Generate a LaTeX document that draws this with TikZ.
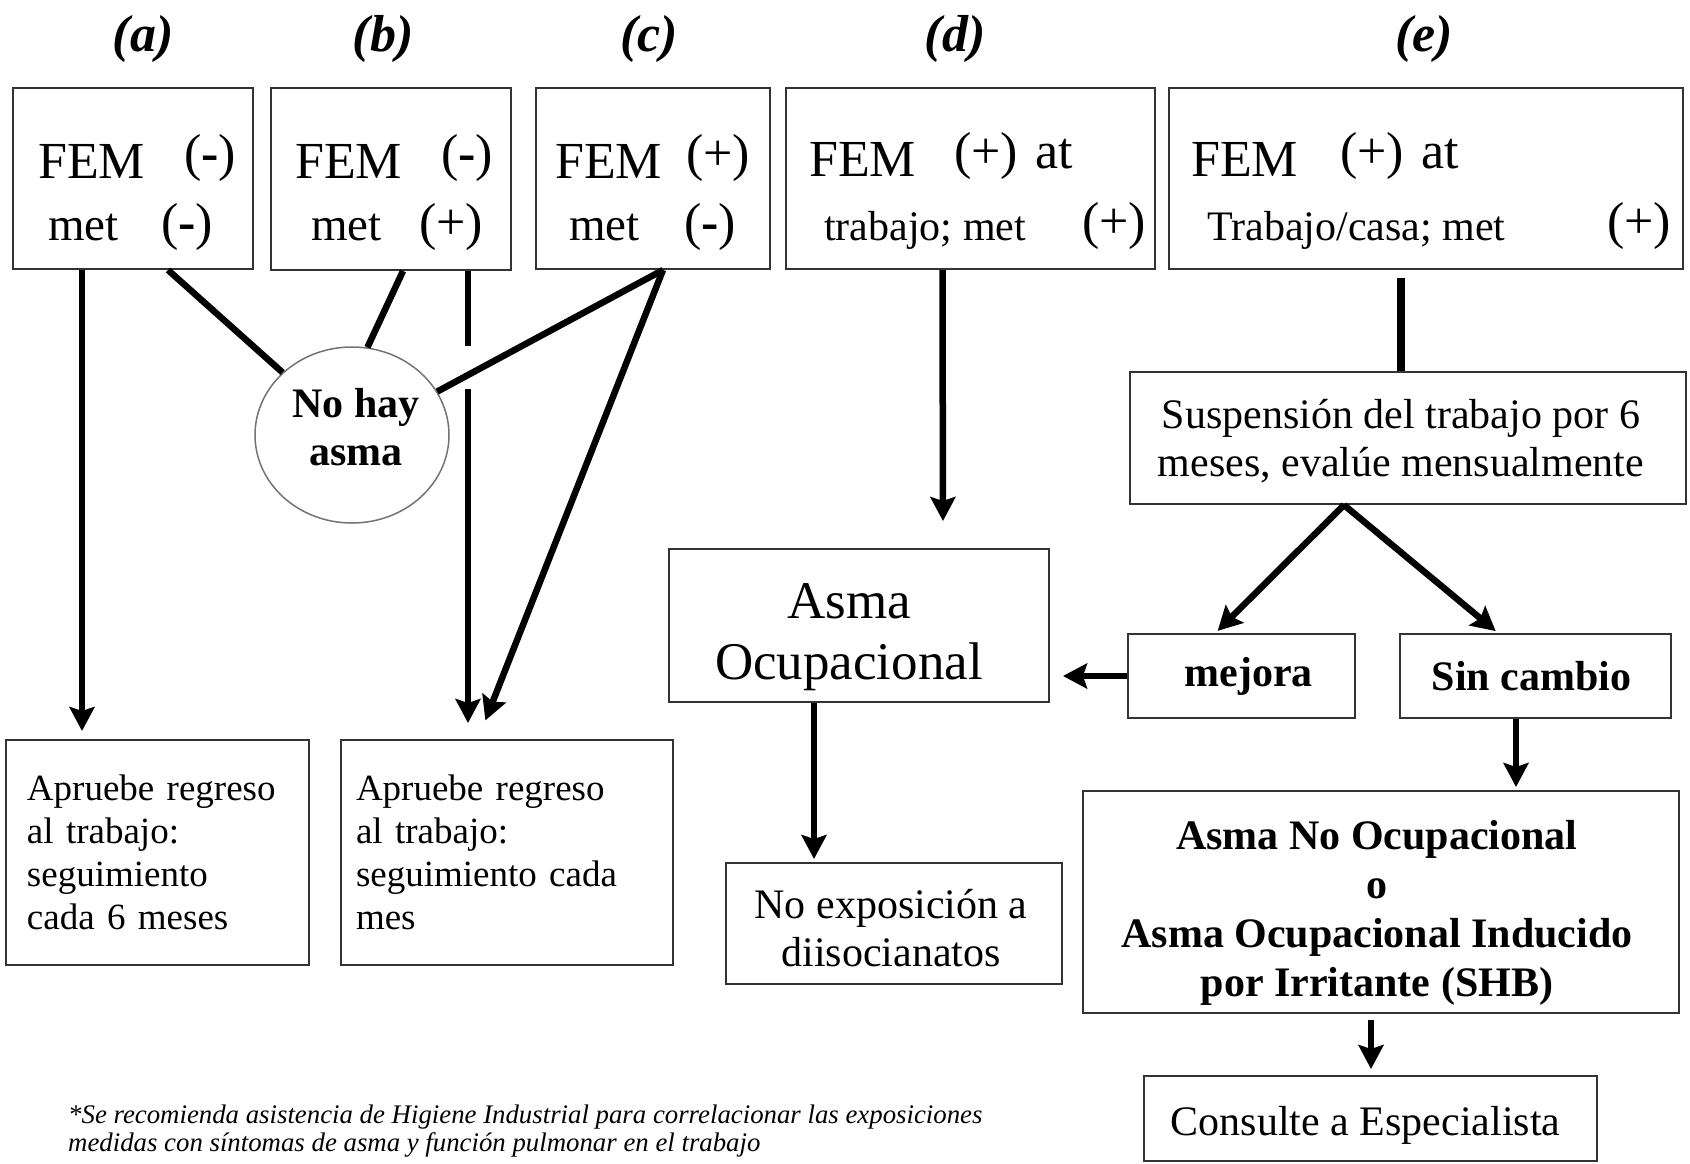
\documentclass[tikz,border=0pt]{standalone}
\usepackage{fontspec}
\setmainfont{Liberation Serif}
\usetikzlibrary{arrows.meta,shapes.geometric,calc}
\newcommand{\fsz}[2]{\fontsize{#1}{#2}\selectfont}
\begin{document}
\begin{tikzpicture}[x=1pt,y=-1pt,
  box/.style={draw=black!80, line width=2pt, inner sep=0pt},
  lbl/.style={font=\fsz{52}{60}\bfseries\itshape},
  txt/.style={anchor=base west, inner sep=0pt},
  arr/.style={line width=6.5pt, -{Stealth[length=24pt,width=25pt,inset=4pt]}},
  ln/.style={line width=6.5pt}]
\useasboundingbox (0,0) rectangle (1690,1163);
\node[lbl] (la) at (143,39) {(a)};
\node[lbl] (lb) at (383,39) {(b)};
\node[lbl] (lc) at (649,39) {(c)};
\node[lbl] (ld) at (955,39) {(d)};
\node[lbl] (le) at (1424,39) {(e)};
\node[box, minimum width=240pt, minimum height=181pt] (Fa) at (133,178.5) {};
\node[box, minimum width=240pt, minimum height=182pt] (Fb) at (391,179) {};
\node[box, minimum width=234pt, minimum height=181pt] (Fc) at (653,178.5) {};
\node[box, minimum width=369pt, minimum height=181pt] (Fd) at (970.5,178.5) {};
\node[box, minimum width=514pt, minimum height=181pt] (Fe) at (1426,178.5) {};
\node[txt, font=\fsz{52}{60}] (Fa1) at (38,178) {FEM};
\node[txt, font=\fsz{52}{60}] (Fa2) at (184,170) {(\textbf{-})};
\node[txt, font=\fsz{47}{54}] (Fa3) at (48,240) {met};
\node[txt, font=\fsz{52}{60}] (Fa4) at (161,239) {(\textbf{-})};
\node[txt, font=\fsz{52}{60}] (Fb1) at (295,178) {FEM};
\node[txt, font=\fsz{52}{60}] (Fb2) at (441,170) {(\textbf{-})};
\node[txt, font=\fsz{47}{54}] (Fb3) at (311,240) {met};
\node[txt, font=\fsz{52}{60}] (Fb4) at (419,239) {(+)};
\node[txt, font=\fsz{52}{60}] (Fc1) at (555,178) {FEM};
\node[txt, font=\fsz{52}{60}] (Fc2) at (686,170) {(+)};
\node[txt, font=\fsz{47}{54}] (Fc3) at (569,240) {met};
\node[txt, font=\fsz{52}{60}] (Fc4) at (684,239) {(\textbf{-})};
\node[txt, font=\fsz{52}{60}] (Fd1) at (809,176) {FEM};
\node[txt, font=\fsz{52}{60}] (Fd2) at (954,168) {(+)\,\,at};
\node[txt, font=\fsz{42}{48}] (Fd3) at (824,240) {trabajo; met};
\node[txt, font=\fsz{52}{60}] (Fd4) at (1082,238) {(+)};
\node[txt, font=\fsz{52}{60}] (Fe1) at (1191,176) {FEM};
\node[txt, font=\fsz{52}{60}] (Fe2) at (1340,168) {(+)\,\,at};
\node[txt, font=\fsz{42}{48}] (Fe3) at (1207,240) {Trabajo/casa; met};
\node[txt, font=\fsz{52}{60}] (Fe4) at (1607,238) {(+)};
\node[ellipse, draw=black!55, fill=white, line width=1.5pt, minimum width=194pt, minimum height=176pt, inner sep=0pt] (NA) at (352,435) {};
\node[align=center, font=\fsz{42}{48}\bfseries] (NAt) at ([xshift=4pt,yshift=8pt]NA.center) {No hay\\asma};
\node[box, text width=261pt, inner xsep=21pt, minimum height=225pt, align=left, font=\fsz{37}{43}] (AR1) at (157.5,852.5) {Apruebe regreso\\al trabajo:\\seguimiento\\cada 6 meses};
\node[box, text width=302pt, inner xsep=15pt, minimum height=225pt, align=left, font=\fsz{37}{43}] (AR2) at (507,852.5) {Apruebe regreso\\al trabajo:\\seguimiento cada\\mes};
\node[box, minimum width=380pt, minimum height=153pt] (AO) at (859,625.5) {};
\node[align=center, font=\fsz{53}{61}] (AOt) at ([xshift=-10pt,yshift=-12pt]AO.center) {Asma\\Ocupacional};
\node[box, minimum width=336pt, minimum height=121pt] (NE) at (894,923.5) {};
\node[align=center, font=\fsz{42}{48}] (NEt) at ([xshift=-3pt,yshift=-5pt]NE.center) {No exposición a\\diisocianatos};
\node[box, minimum width=556pt, minimum height=132pt] (SUS) at (1408,438) {};
\node[align=center, font=\fsz{42}{48}] (SUSt) at ([xshift=-7pt,yshift=-3pt]SUS.center) {Suspensión del trabajo por 6\\meses, evalúe mensualmente};
\node[box, minimum width=227pt, minimum height=84pt] (MEJ) at (1241.5,676) {};
\node[font=\fsz{42}{48}\bfseries] (MEJt) at ([xshift=7pt]MEJ.center) {mejora};
\node[box, minimum width=271pt, minimum height=84pt] (SC) at (1535.5,676) {};
\node[font=\fsz{42}{48}\bfseries] (SCt) at ([xshift=-4pt]SC.center) {Sin cambio};
\node[box, minimum width=596pt, minimum height=222pt] (ANO) at (1381,902) {};
\node[align=center, font=\fsz{42}{49}\bfseries] (ANOt) at ([xshift=-4pt,yshift=-11pt]ANO.center) {Asma No Ocupacional\\o\\Asma Ocupacional Inducido\\por Irritante (SHB)};
\node[box, minimum width=453pt, minimum height=85pt] (CE) at (1370.5,1118.5) {};
\node[font=\fsz{42}{48}] (CEt) at ([xshift=-5pt,yshift=-7pt]CE.center) {Consulte a Especialista};
\node[anchor=west, inner sep=0pt, align=left, font=\fsz{26.8}{28}\itshape] (nota) at (68,1131) {*Se recomienda asistencia de Higiene Industrial para correlacionar las exposiciones\\medidas con síntomas de asma y función pulmonar en el trabajo};
\coordinate (Cs) at ([xshift=10pt]Fc.south);
\coordinate (Bs) at ([xshift=77pt]Fb.south);
\coordinate (Bt) at ([xshift=-39pt]AR2.north);
\draw[arr, shorten >=8pt] ([xshift=-51pt]Fa.south) -- ([xshift=-75.5pt]AR1.north);
\draw[ln] ([xshift=35pt]Fa.south) -- (NA.138);
\draw[ln] ([xshift=12pt]Fb.south) -- (NA.80);
\draw[ln] (Bs) -- ($(Bs)!0.16!(Bt)$);
\draw[arr, shorten >=16pt] ($(Bs)!0.252!(Bt)$) -- (Bt);
\draw[ln] (Cs) -- (NA.27);
\draw[arr, shorten >=20pt] (Cs) -- ([xshift=-29pt]AR2.north);
\draw[arr, shorten >=27pt] ([xshift=-28pt]Fd.south) -- ([xshift=84pt]AO.north);
\draw[line width=8pt, shorten <=8pt] ([xshift=-25pt]Fe.south) -- ([xshift=-7pt]SUS.north);
\draw[arr, shorten >=3pt] ([xshift=-64pt]SUS.south) -- ([xshift=-26pt]MEJ.north);
\draw[arr, shorten >=3pt] ([xshift=-64pt]SUS.south) -- ([xshift=-37.5pt]SC.north);
\draw[arr, shorten >=13pt] (MEJ.west) -- (MEJ.west -| AO.east);
\draw[arr, shorten >=3pt] ([xshift=-19.5pt]SC.south) -- ([xshift=135pt]ANO.north);
\draw[arr, shorten <=6pt, shorten >=6pt] ([xshift=-10pt]ANO.south) -- ([xshift=0.5pt]CE.north);
\draw[arr, shorten >=3pt] ([xshift=-45pt]AO.south) -- ([xshift=-80pt]NE.north);
\end{tikzpicture}
\end{document}
